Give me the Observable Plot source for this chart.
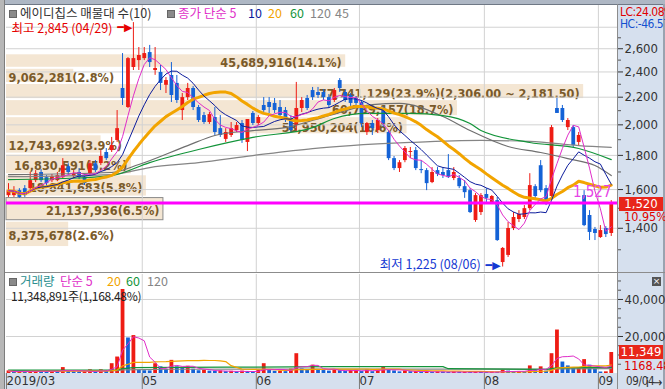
<!DOCTYPE html>
<html><head><meta charset="utf-8">
<script src="https://cdn.jsdelivr.net/npm/d3@7"></script>
<script src="https://cdn.jsdelivr.net/npm/@observablehq/plot@0.6"></script>
<style>
html,body{margin:0;padding:0;background:#fff;}
#wrap{position:relative;width:665px;height:389px;overflow:hidden;background:#fff;font-family:"Noto Sans CJK KR","Liberation Sans",sans-serif;}
.abs{position:absolute;white-space:nowrap;}
.layer{position:absolute;left:0;}
.layer svg{display:block;}
</style></head>
<body><div id="wrap"></div>
<script>
// ---------------- DATA ----------------
const stockName = "에이디칩스";
const monthLabels = ["2019/03", "05", "06", "07", "08", "09"];
const monthStartIdx = [0, 25, 46, 65, 88, 109];
const lastDateLabel = "09/04";
const highDate = "04/29";
const lowDate = "08/06";

const open = [1567,1567,1594,1605,1605,1650,1697,1667,1650,1650,1667,1731,1673,1697,1667,1690,1749,1750,1818,1830,
  1895,2267,2123,2437,2496,2513,2566,2412,2396,2292,2371,2307,2101,2197,2267,2123,2065,2016,2051,1974,
  1902,1928,1961,2009,1882,2080,2009,2138,2160,2153,2123,2101,2044,1995,2116,2190,2251,2236,2236,2197,
  2175,2330,2236,2213,2190,2160,1948,2009,1961,2116,1948,1780,1720,1768,1818,1830,1714,1708,1639,1708,
  1697,1708,1662,1662,1616,1594,1438,1478,1573,1530,1540,1244,1275,1399,1443,1453,1498,1616,1737,1605,
  1562,2116,2116,1981,1981,1882,1567,1463,1394,1356,1399,1375];
const high = [1633,1616,1605,1622,1697,1708,1714,1679,1685,1697,1780,1749,1708,1720,1685,1768,1768,1830,1843,1915,
  2101,2557,2522,2845,2611,2611,2630,2611,2454,2354,2479,2371,2228,2307,2282,2138,2087,2087,2123,2065,
  1974,2016,2016,2030,2037,2094,2065,2197,2197,2190,2175,2123,2065,2315,2197,2213,2275,2275,2259,2220,
  2267,2346,2251,2228,2205,2175,2016,2030,2044,2131,1961,1793,1768,1856,1850,1850,1768,1720,1726,1726,
  1726,1805,1726,1679,1650,1605,1578,1578,1605,1567,1557,1310,1428,1478,1488,1514,1690,1627,1768,1622,
  1995,2190,2138,2044,1995,1948,1594,1488,1404,1413,1408,1540];
const low = [1557,1557,1552,1557,1594,1639,1639,1616,1639,1644,1662,1679,1662,1656,1622,1679,1697,1738,1768,1818,
  1882,2138,2116,2412,2412,2496,2437,2372,2251,2228,2160,2153,2030,2175,2101,2016,2003,2003,1928,1915,
  1882,1915,1948,1876,1824,1995,1995,2087,2080,2080,2051,2016,1948,1948,2087,2101,2175,2190,2175,2116,
  2160,2236,2160,2131,2131,1981,1928,1928,1941,1981,1768,1708,1697,1755,1780,1708,1690,1594,1633,1673,
  1662,1662,1650,1605,1552,1473,1429,1463,1530,1520,1338,1225,1266,1389,1428,1443,1488,1540,1583,1514,
  1552,2080,2016,1961,1850,1862,1408,1342,1342,1352,1356,1361];
const close = [1594,1588,1557,1567,1650,1690,1650,1633,1673,1679,1737,1697,1690,1667,1633,1749,1708,1793,1780,1862,
  1974,2190,2513,2513,2540,2557,2479,2429,2307,2330,2213,2175,2197,2267,2123,2030,2016,2072,1948,1928,
  1948,1974,1995,1895,2037,2009,2051,2101,2123,2101,2065,2044,1961,2116,2175,2116,2197,2213,2197,2138,
  2251,2267,2175,2153,2153,2009,2009,1974,2030,2009,1780,1720,1755,1843,1824,1720,1708,1633,1697,1685,
  1679,1667,1697,1616,1583,1478,1567,1567,1552,1562,1342,1306,1399,1453,1468,1498,1622,1562,1594,1530,
  1981,2080,2030,2030,1862,1928,1413,1380,1375,1389,1370,1520];
const volume = [1400000,700000,1100000,1000000,1500000,1500000,1100000,800000,1400000,1000000,
  3200000,1200000,900000,800000,1000000,2000000,900000,2000000,1100000,5300000,
  8900000,45400000,19200000,20500000,1800000,1500000,1400000,5300000,3600000,2200000,
  7100000,3600000,2700000,3900000,2300000,1500000,1700000,1300000,1200000,1400000,
  1000000,1200000,900000,1300000,1100000,800000,1600000,5300000,1600000,1200000,
  1300000,1000000,2400000,10700000,2500000,2000000,4500000,2200000,1600000,1300000,
  2100000,1500000,1200000,1600000,1800000,1200000,1900000,1000000,2200000,3200000,
  2000000,1400000,900000,1400000,1000000,1100000,800000,1000000,700000,900000,
  800000,600000,900000,700000,800000,600000,900000,700000,600000,800000,
  700000,1800000,1300000,900000,1100000,800000,4100000,1500000,3600000,1300000,
  10700000,23500000,6200000,4100000,2700000,2900000,7500000,4500000,2400000,800000,
  894687,11348891];

// longer moving averages (index, price)
const ma45Idx = [0,19,24,33,38,45,51,59,67,72,80,85,92,98,103,108,111];
const ma45Val = [1685,1697,1744,1862,1928,1961,1981,2065,2145,2153,2058,1961,1856,1818,1780,1738,1679];
const ma60Idx = [0,10,19,26,35,45,56,60,66,74,80,85,87,96,105,111];
const ma60Val = [1656,1662,1679,1756,1837,1915,1981,2044,2080,2080,2065,2009,1961,1882,1843,1774];
const ma120Idx = [0,19,26,35,45,56,63,74,87,96,105,111];
const ma120Val = [1673,1685,1726,1756,1799,1843,1862,1882,1895,1889,1862,1850];
// volume moving averages 60 / 120
const volMa60Idx = [0,20,21,23,40,60,80,81,99,100,101,111];
const volMa60Val = [1900000,2000000,2600000,3200000,3400000,3700000,3700000,2600000,2200000,2600000,3000000,3300000];
const volMa120Idx = [0,20,21,30,60,100,101,111];
const volMa120Val = [1600000,1600000,2000000,2300000,2400000,2300000,2500000,2600000];

// price-volume profile (매물대), 10 bands
const bandLow = [1310,1434.5,1559,1683.5,1808,1932.5,2057,2181.5,2306,2430.5];
const bandHigh = [1434.5,1559,1683.5,1808,1932.5,2057,2181.5,2306,2430.5,2555];
const bandVolume = [8375678,21137936,18841683,16830591,12743692,53950204,60739157,77741129,9062281,45689916];

const priceTicks = [1400,1600,1800,2000,2200,2400,2600];
const priceMinorTicks = [1300,1500,1700,1900,2100,2300,2500,2700];
const priceGrid = [1400,1600,1800,2000,2200,2400,2600,2800];
const volumeTicks = [20000000,40000000];
const volumeMinorTicks = [5000000,10000000,15000000,25000000,30000000,35000000,45000000,50000000];
const supportPrice = 1527;
const maLegend = ["5","10","20","60","120","45"];
const volLegend = ["5","20","60","120"];

// ---------------- CHART ----------------
const UP = "#ee1c14", DOWN = "#1462d6";
const C5 = "#e02ec8", C10 = "#0c1c9c", C20 = "#f2a400", C60 = "#13943a", C120 = "#858585", C45 = "#6f6f6f";
const fmt = d3.format(",");
const n = close.length;
const candles = close.map((c, i) => ({i, o: open[i], h: high[i], l: low[i], c, col: c >= open[i] ? UP : DOWN}));
const vols = volume.map((v, i) => ({i, v, col: i > 0 && v < volume[i - 1] ? DOWN : UP}));
const ptsOf = (idx, val) => idx.map((i, k) => ({i, p: val[k]}));
const xDomain = [-0.37, 112.15];
const yDomain = [1202, 3018];
const NARROW = "Liberation Sans Narrow, DejaVu Sans Condensed, Liberation Sans, sans-serif";

const wrap = document.getElementById("wrap");
function addDiv(css, html) { const d = document.createElement("div"); d.className = "abs"; d.style.cssText = css; if (html != null) d.innerHTML = html; wrap.appendChild(d); return d; }
function addLayer(svg, top) { const d = document.createElement("div"); d.className = "layer"; d.style.top = top + "px"; d.appendChild(svg); wrap.appendChild(d); return d; }

// backgrounds and frame
addDiv("left:617px;top:4px;width:48px;height:370px;background:#d6e0ee;");
addDiv("left:0;top:373px;width:665px;height:16px;background:#d6e0ee;");
addDiv("left:0;top:0;width:665px;height:4px;background:#aeb7c4;border-bottom:1px solid #6f7885;");
addDiv("left:0;top:0;width:4px;height:389px;background:#b7b7b7;border-right:1px solid #7d7d7d;");
addDiv("left:663px;top:4px;width:2px;height:385px;background:#9aa3b0;");

// bands layer
const bands = bandLow.map((lo, k) => ({lo, hi: bandHigh[k], mid: (lo + bandHigh[k]) / 2, v: bandVolume[k]}));
const totalBand = d3.sum(bandVolume);
const maxBand = d3.max(bandVolume);
const lastClose = close[n - 1];
const bandLabel = b => `${fmt(b.v)}(${(b.v / totalBand * 100).toFixed(1)}%)` + (b.v === maxBand ? `(${d3.format(",.2f")(b.hi)} ~ ${d3.format(",.2f")(b.lo)})` : "");
const labelMinVol = 14000000;
const bandStyle = {fill: "#7a5a2a", fontSize: 12.6, fontWeight: "bold", fontFamily: NARROW};
const bandChart = Plot.plot({
  width: 665, height: 273, marginLeft: 6, marginRight: 48, marginTop: 5, marginBottom: 1,
  x: {domain: [0, 82300000], axis: null},
  y: {type: "log", domain: yDomain, axis: null},
  style: {background: "transparent", overflow: "visible"},
  marks: [
    Plot.rect(bands, {x1: d => 0, x2: "v", y1: "lo", y2: "hi", fill: "#f4e6d3", insetTop: 1, insetBottom: 1}),
    Plot.rect(bands.filter(b => lastClose >= b.lo && lastClose < b.hi), {x1: d => 0, x2: "v", y1: "lo", y2: "hi", fill: "none", stroke: "#8a8a8a", insetTop: 1, insetBottom: 1}),
    Plot.text(bands.filter(b => b.v >= labelMinVol), {x: "v", y: "mid", text: bandLabel, textAnchor: "end", dx: -4, dy: 2, ...bandStyle}),
    Plot.text(bands.filter(b => b.v < labelMinVol), {x: d => 0, y: "mid", text: bandLabel, textAnchor: "start", dx: 2, dy: 2, ...bandStyle})
  ]
});
addLayer(bandChart, 0);

// price layer
const priceChart = Plot.plot({
  width: 665, height: 273, marginLeft: 6, marginRight: 48, marginTop: 5, marginBottom: 1,
  x: {domain: xDomain, axis: null},
  y: {type: "log", domain: yDomain, axis: null},
  style: {background: "transparent", overflow: "visible"},
  marks: [
    Plot.gridY(priceGrid, {stroke: "#d2d2d2", strokeOpacity: 1}),
    Plot.gridX(monthStartIdx.slice(1), {stroke: "#d2d2d2", strokeOpacity: 1, dx: -2}),
    Plot.ruleX(candles, {x: "i", y1: "l", y2: "h", stroke: "col", strokeWidth: 1}),
    Plot.ruleX(candles, {x: "i", y1: "o", y2: "c", stroke: "col", strokeWidth: 3.8}),
    Plot.line(ptsOf(ma120Idx, ma120Val), {x: "i", y: "p", stroke: C120, strokeWidth: 1.2, curve: "monotone-x"}),
    Plot.line(ptsOf(ma45Idx, ma45Val), {x: "i", y: "p", stroke: C45, strokeWidth: 1.2, curve: "monotone-x"}),
    Plot.line(ptsOf(ma60Idx, ma60Val), {x: "i", y: "p", stroke: C60, strokeWidth: 1.2, curve: "monotone-x"}),
    Plot.lineY(candles, Plot.windowY({k: 20, anchor: "end", reduce: "mean"}, {x: "i", y: "c", stroke: C20, strokeWidth: 3})),
    Plot.lineY(candles, Plot.windowY({k: 10, anchor: "end", reduce: "mean"}, {x: "i", y: "c", stroke: C10, strokeWidth: 1})),
    Plot.lineY(candles, Plot.windowY({k: 5, anchor: "end", reduce: "mean"}, {x: "i", y: "c", stroke: C5, strokeWidth: 1})),
    Plot.ruleY([supportPrice], {stroke: "#ff00ff", strokeWidth: 3}),
    Plot.text([supportPrice], {y: d => d, text: d => fmt(d), frameAnchor: "right", textAnchor: "end", dx: -6, dy: -11, fill: "#e642e6", fontSize: 15, fontFamily: NARROW}),
    Plot.text(candles.filter(d => d.h === d3.max(high)), {x: "i", y: "h", text: d => `최고 ${fmt(d.h)} (${highDate})`, textAnchor: "end", dx: -21, dy: 6, fill: "#e60000", fontSize: 12.5, fontFamily: "Noto Sans CJK KR"}),
    Plot.text(candles.filter(d => d.h === d3.max(high)), {x: "i", y: "h", text: d => "━▶", textAnchor: "end", dx: -1, dy: 5, fill: "#e60000", fontSize: 11, fontFamily: "DejaVu Sans"}),
    Plot.text(candles.filter(d => d.l === d3.min(low)), {x: "i", y: "l", text: d => `최저 ${fmt(d.l)} (${lowDate})`, textAnchor: "end", dx: -22, dy: -2, fill: "#1438d2", fontSize: 12.5, fontFamily: "Noto Sans CJK KR"}),
    Plot.text(candles.filter(d => d.l === d3.min(low)), {x: "i", y: "l", text: d => "━▶", textAnchor: "end", dx: -2, dy: -2, fill: "#1438d2", fontSize: 11, fontFamily: "DejaVu Sans"}),
    Plot.axisY(priceTicks, {anchor: "right", tickSize: 5, tickPadding: 2, tickFormat: fmt, fontSize: 13, fontFamily: NARROW, color: "#333"}),
    Plot.axisY(priceMinorTicks, {anchor: "right", tickSize: 3, tickFormat: () => "", color: "#555"})
  ]
});
addLayer(priceChart, 0);

// volume layer
const volChart = Plot.plot({
  width: 665, height: 116, marginLeft: 6, marginRight: 48, marginTop: 1, marginBottom: 16,
  x: {domain: xDomain, axis: null},
  y: {domain: [0, 53500000], axis: null},
  style: {background: "transparent", overflow: "visible"},
  marks: [
    Plot.gridY(volumeTicks, {stroke: "#d2d2d2", strokeOpacity: 1}),
    Plot.gridX(monthStartIdx.slice(1), {stroke: "#d2d2d2", strokeOpacity: 1, dx: -2}),
    Plot.ruleX(vols, {x: "i", y: "v", stroke: "col", strokeWidth: 3.8}),
    Plot.line(ptsOf(volMa120Idx, volMa120Val), {x: "i", y: "p", stroke: C120, strokeWidth: 1.2}),
    Plot.line(ptsOf(volMa60Idx, volMa60Val), {x: "i", y: "p", stroke: C60, strokeWidth: 1.2}),
    Plot.lineY(vols, Plot.windowY({k: 20, anchor: "end", reduce: "mean"}, {x: "i", y: "v", stroke: C20, strokeWidth: 1.2})),
    Plot.lineY(vols, Plot.windowY({k: 5, anchor: "end", reduce: "mean"}, {x: "i", y: "v", stroke: C5, strokeWidth: 1})),
    Plot.axisY(volumeTicks, {anchor: "right", tickSize: 5, tickPadding: 2, tickFormat: d => fmt(d / 1000) + "K", fontSize: 13, fontFamily: NARROW, color: "#333"}),
    Plot.axisY(volumeMinorTicks, {anchor: "right", tickSize: 3, tickFormat: () => "", color: "#555"}),
    Plot.axisX(monthStartIdx, {anchor: "bottom", tickSize: 16, tickPadding: -14, dx: -2, textAnchor: "start", lineAnchor: "top",
      tickFormat: d => monthLabels[monthStartIdx.indexOf(d)], fontSize: 13, fontFamily: NARROW, color: "#333", stroke: "#7a7a7a"})
  ]
});
addLayer(volChart, 273);

// separators
addDiv("left:5px;top:272px;width:660px;height:1px;background:#8c8c8c;");
addDiv("left:617px;top:4px;width:1px;height:385px;background:#8c8c8c;");

// legends (absolute positions)
const sqCss = "width:6px;height:6px;background:#8a8a8a;border:1px solid #666;";
const legFont = "font-size:12.5px;line-height:14px;";
addDiv(`left:9px;top:10px;${sqCss}`);
addDiv(`left:20px;top:6px;${legFont}color:#333;`, `${stockName} 매물대 수(10)`);
addDiv(`left:167px;top:10px;${sqCss}`);
const maCols = [C5, C10, C20, C60, C120, C120];
const maX = [178, 248, 268, 290, 310, 335];
maLegend.forEach((m, k) => addDiv(`left:${maX[k]}px;top:6px;${legFont}color:${maCols[k]};`, k === 0 ? `종가 단순 ${m}` : m));

addDiv(`left:9px;top:278px;${sqCss}`);
addDiv(`left:20px;top:274px;${legFont}color:#2b8f8f;`, "거래량");
const volCols = [C5, C20, C60, C120];
const volX = [60, 107, 126, 147];
volLegend.forEach((m, k) => addDiv(`left:${volX[k]}px;top:274px;${legFont}color:${volCols[k]};`, k === 0 ? `단순 ${m}` : m));
const lastVol = volume[n - 1], prevVol = volume[n - 2];
const volRatio = (lastVol / prevVol - 1) * 100;
addDiv(`left:11px;top:289px;font-size:12px;line-height:13px;letter-spacing:-0.3px;color:#222;`, `${fmt(lastVol)}주(${d3.format(",.2f")(volRatio)}%)`);

// right side info
const lc = (lastClose / d3.min(low) - 1) * 100, hc = (lastClose / d3.max(high) - 1) * 100;
const rSmall = `font-size:12px;line-height:12px;letter-spacing:-0.5px;font-family:${NARROW};`;
addDiv(`left:620px;top:6px;${rSmall}color:#e00000;`, `LC:${lc.toFixed(2)}%`);
addDiv(`left:620px;top:18px;${rSmall}color:#1450d0;`, `HC:${hc.toFixed(2)}%`);
const yClose = priceChart.scale("y").apply(lastClose);
const chg = (lastClose / close[n - 2] - 1) * 100;
addDiv(`left:619px;top:${yClose - 7}px;width:44px;height:14px;background:#e8261a;color:#fff;font-size:13px;line-height:14px;text-align:center;font-family:${NARROW}`, fmt(lastClose));
addDiv(`left:624px;top:${yClose + 7}px;font-size:12.5px;line-height:12px;color:#e00000;font-family:${NARROW}`, chg.toFixed(2) + "%");
const yVol = 273 + volChart.scale("y").apply(lastVol);
addDiv(`left:619px;top:${yVol - 7}px;width:44px;height:14px;background:#e8261a;color:#fff;font-size:13px;line-height:14px;text-align:center;font-family:${NARROW}`, fmt(Math.round(lastVol / 1000)));
addDiv(`left:624px;top:${yVol + 7}px;font-size:12.5px;line-height:13px;color:#e00000;font-family:${NARROW}`, volRatio.toFixed(2) + "%");
addDiv("left:652px;top:277px;width:9px;height:9px;background:#555;color:#fff;font-size:9px;line-height:9px;text-align:center;font-family:DejaVu Sans", "×");
addDiv(`left:626px;top:374px;font-size:11.5px;line-height:15px;letter-spacing:-0.3px;color:#333;font-family:${NARROW}`, lastDateLabel);
</script></body></html>
